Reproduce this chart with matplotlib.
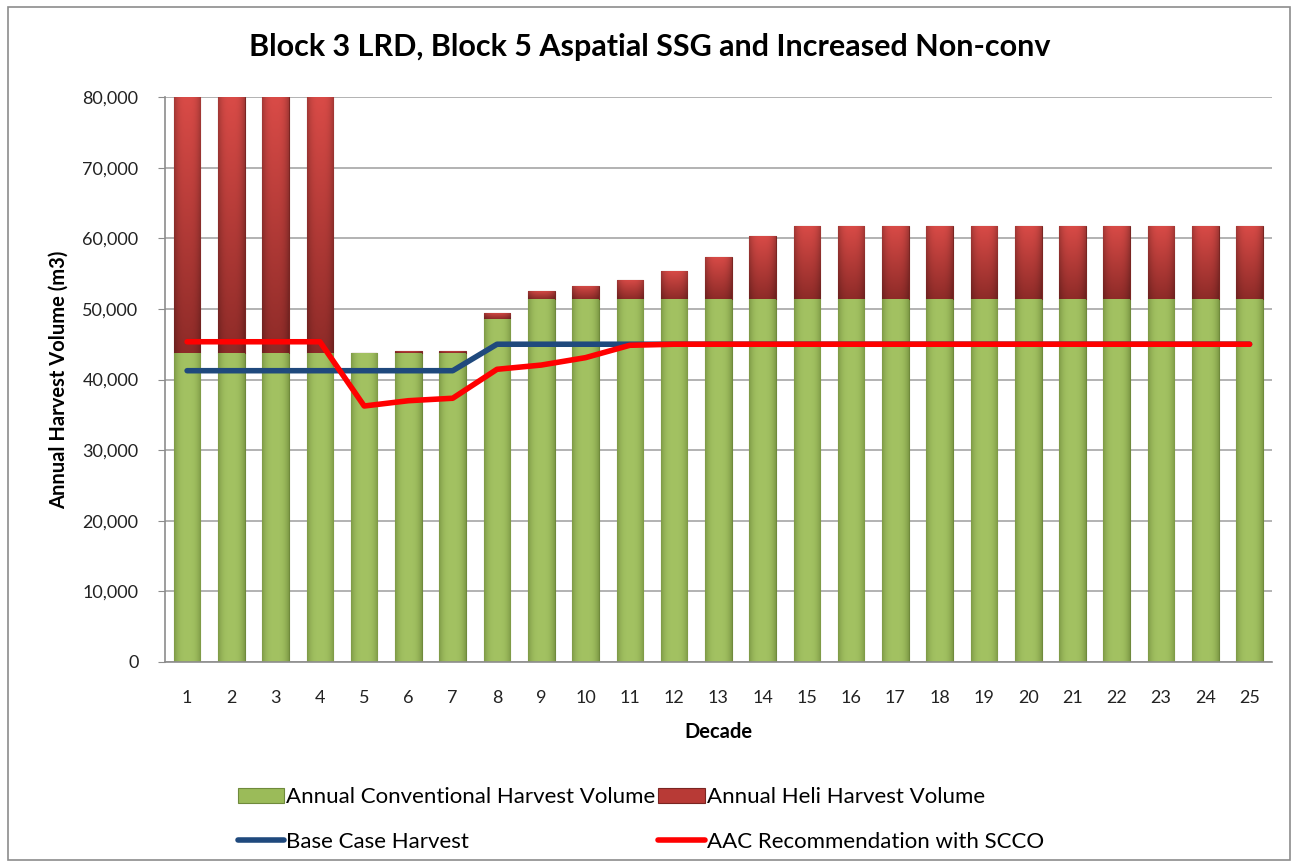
import matplotlib.pyplot as plt
import numpy as np
from matplotlib.patches import Rectangle
from matplotlib.ticker import FuncFormatter
from matplotlib.colors import to_rgb

# decade numbers
decades = list(range(1, 26))

# annual conventional harvest volume (m3)
conventional = [43700, 43700, 43700, 43700, 43700, 43700, 43700, 48600, 51350, 51350,
                51350, 51350, 51350, 51350, 51350, 51350, 51350, 51350, 51350, 51350,
                51350, 51350, 51350, 51350, 51350]
# annual heli harvest volume (m3)
heli = [36300, 36300, 36300, 36300, 0, 300, 400, 850, 1250, 1900,
        2750, 4000, 6050, 8950, 10450, 10450, 10450, 10450, 10450, 10450,
        10450, 10450, 10450, 10450, 10450]
# base case harvest
base_case = [41250, 41250, 41250, 41250, 41250, 41250, 41250, 45000, 45000, 45000,
             45000, 45000, 45000, 45000, 45000, 45000, 45000, 45000, 45000, 45000,
             45000, 45000, 45000, 45000, 45000]
# AAC recommendation with SCCO
aac = [45350, 45350, 45350, 45350, 36250, 37000, 37350, 41450, 42050, 43100,
       44850, 45000, 45000, 45000, 45000, 45000, 45000, 45000, 45000, 45000,
       45000, 45000, 45000, 45000, 45000]

plt.rcParams['font.family'] = ['Lato', 'DejaVu Sans']

fig = plt.figure(figsize=(12.99, 8.67), dpi=100)
ax = fig.add_axes([0.127, 0.2365, 0.852, 0.6515])

# chart border
fig.patches.append(Rectangle((0.006, 0.008), 0.987, 0.984, transform=fig.transFigure,
                             fill=False, edgecolor='#8c8c8c', linewidth=1.2))

bars1 = ax.bar(decades, conventional, width=0.6, color='#9BBB59', edgecolor='#6f8a3c',
               linewidth=0.8, label='Annual Conventional Harvest Volume', zorder=2)
bars2 = ax.bar(decades, heli, width=0.6, bottom=conventional, color='#B83A36',
               edgecolor='#7a2522', linewidth=0.8, label='Annual Heli Harvest Volume', zorder=2)

# shading: green darker at the sides, red lighter at the top
g = np.linspace(-1, 1, 64)
side = np.abs(g) ** 3
c_mid, c_edge = np.array(to_rgb('#A3C262')), np.array(to_rgb('#7E9A46'))
green_img = (c_mid * (1 - side[:, None]) + c_edge * side[:, None])[None, :, :]
t = np.linspace(0, 1, 64)[:, None]
c_top, c_bot = np.array(to_rgb('#D94B47')), np.array(to_rgb('#8E2B28'))
red_img = (c_top * (1 - t) + c_bot * t)[:, None, :]
red_img = red_img * (1 - 0.25 * side[None, :, None])

for bars, img in [(bars1, green_img), (bars2, red_img)]:
    for b in bars:
        if b.get_height() <= 0:
            continue
        x0, y0 = b.get_x(), b.get_y()
        w, h = b.get_width(), b.get_height()
        im = ax.imshow(img, extent=[x0, x0 + w, y0, y0 + h], aspect='auto',
                       origin='upper', zorder=2.1)
        im.set_clip_path(b)

ax.plot(decades, base_case, color='#1F497D', linewidth=4, label='Base Case Harvest',
        zorder=3, solid_capstyle='round')
ax.plot(decades, aac, color='#FF0000', linewidth=4, label='AAC Recommendation with SCCO',
        zorder=4, solid_capstyle='round')

ax.set_xlim(0.5, 25.5)
ax.set_ylim(0, 80000)
ax.set_yticks(range(0, 80001, 10000))
ax.yaxis.set_major_formatter(FuncFormatter(lambda v, p: f'{int(v):,}'))
ax.set_xticks(decades)
ax.tick_params(axis='both', labelsize=13, colors='#222222')
ax.tick_params(axis='x', length=0, pad=20)
ax.tick_params(axis='y', length=5, color='#8c8c8c', pad=14)
ax.grid(axis='y', color='#a6a6a6', linewidth=1.2, zorder=0)
ax.set_axisbelow(True)
for s in ['top', 'right']:
    ax.spines[s].set_visible(False)
for s in ['left', 'bottom']:
    ax.spines[s].set_color('#8c8c8c')
    ax.spines[s].set_linewidth(1.2)

fig.text(0.5, 0.946, 'Block 3 LRD, Block 5 Aspatial SSG and Increased Non-conv',
         fontsize=22, fontweight='bold', ha='center', va='center')
ax.set_ylabel('Annual Harvest Volume (m3)', fontsize=14.5, fontweight='bold', labelpad=10)
ax.set_xlabel('Decade', fontsize=14.5, fontweight='bold', labelpad=12)

h, l = ax.get_legend_handles_labels()
# order: conv, base, heli, aac (column-wise fill)
order = [2, 0, 3, 1]
fig.legend([h[i] for i in order], [l[i] for i in order], ncol=2, loc='upper left',
           bbox_to_anchor=(0.1675, 0.115), frameon=False, fontsize=16,
           handlelength=2.1, handletextpad=0.1, columnspacing=0.12, labelspacing=1.1)

fig.savefig('out.png', dpi=100)
plt.close(fig)
